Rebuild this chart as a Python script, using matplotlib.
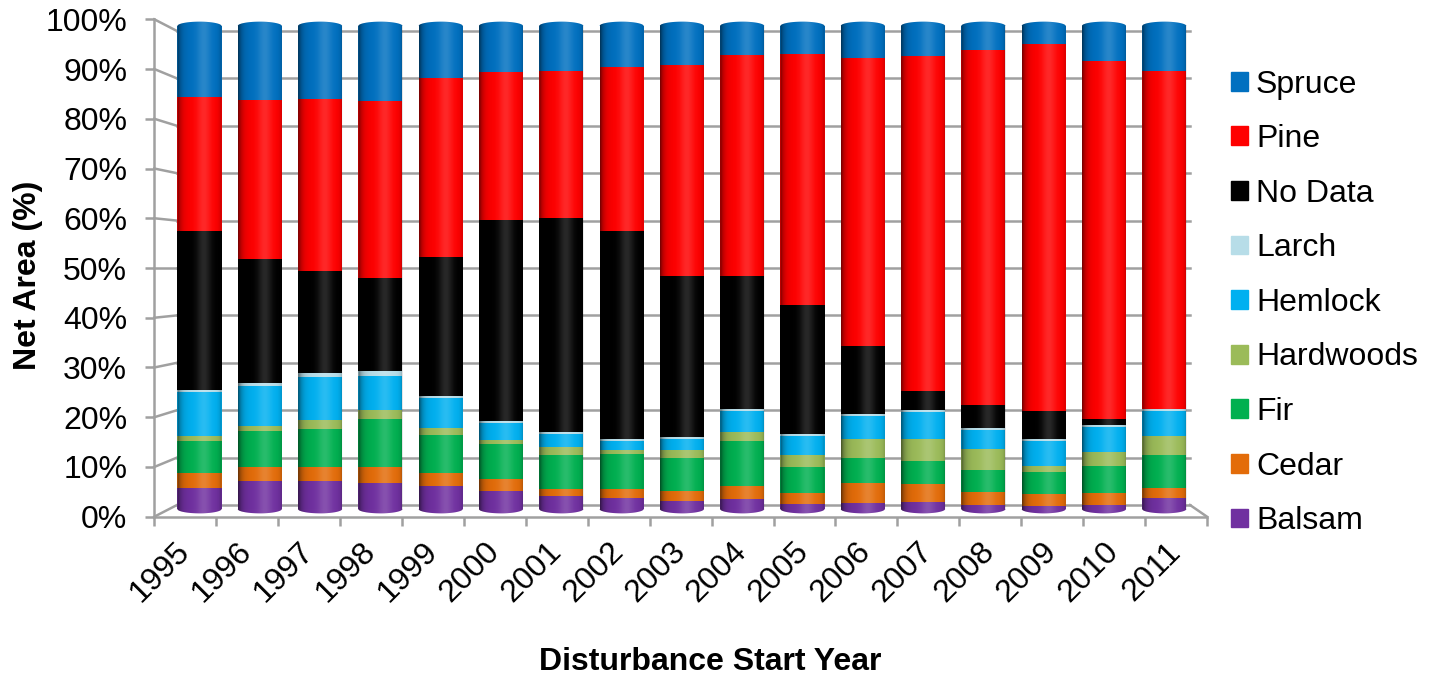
import numpy as np
import matplotlib
matplotlib.use('Agg')
import matplotlib.pyplot as plt
from matplotlib.patches import Rectangle, PathPatch
from matplotlib.path import Path

plt.rcParams['font.family'] = ['Liberation Sans', 'DejaVu Sans']

# Net area share (%) by species group for each disturbance start year
years = [str(y) for y in range(1995, 2012)]
balsam = [4.3, 5.7, 5.7, 5.4, 4.8, 3.8, 2.6, 2.3, 1.7, 2.1, 1.1, 1.2, 1.4, 0.8, 0.7, 0.8, 2.2]
cedar = [3.2, 3.0, 3.1, 3.4, 2.6, 2.4, 1.5, 1.8, 2.1, 2.7, 2.3, 4.2, 3.8, 2.8, 2.4, 2.5, 2.1]
fir = [6.5, 7.5, 7.7, 9.8, 8.0, 7.2, 7.0, 7.2, 6.8, 9.3, 5.3, 5.2, 4.8, 4.5, 4.6, 5.7, 6.8]
hardwoods = [1.1, 0.9, 1.9, 1.9, 1.4, 0.9, 1.7, 1.0, 1.7, 1.9, 2.5, 3.8, 4.4, 4.4, 1.3, 2.8, 4.0]
hemlock = [9.1, 8.4, 9.0, 7.1, 6.1, 3.5, 2.8, 1.7, 2.2, 4.3, 4.0, 4.8, 5.7, 3.9, 5.0, 5.1, 5.2]
larch = [0.5, 0.5, 0.7, 0.9, 0.6, 0.4, 0.4, 0.4, 0.4, 0.4, 0.4, 0.4, 0.4, 0.4, 0.4, 0.4, 0.4]
no_data = [32.9, 25.8, 21.2, 19.4, 28.6, 41.6, 44.3, 43.2, 33.4, 27.6, 26.6, 14.2, 4.0, 4.7, 5.9, 1.3, 0.0]
pine = [27.8, 32.9, 35.6, 36.6, 37.1, 30.6, 30.3, 34.0, 43.7, 45.7, 52.1, 59.6, 69.2, 73.6, 75.9, 74.1, 70.0]
spruce = [14.6, 15.3, 15.1, 15.5, 10.8, 9.6, 9.4, 8.4, 8.0, 6.0, 5.7, 6.6, 6.3, 4.9, 3.8, 7.3, 9.3]

series = [('Balsam', balsam, '#7030A0'),
          ('Cedar', cedar, '#E36C09'),
          ('Fir', fir, '#00B050'),
          ('Hardwoods', hardwoods, '#9BBB59'),
          ('Hemlock', hemlock, '#00B0F0'),
          ('Larch', larch, '#B7DDE8'),
          ('No Data', no_data, '#000000'),
          ('Pine', pine, '#FF0000'),
          ('Spruce', spruce, '#0070C0')]

W, H = 1434, 675
GRID = '#a0a0a0'
FS = 23

def fx(px):
    return px / W

def fy(py):
    return 1 - py / H

fig = plt.figure(figsize=(W / 100, H / 100), dpi=100)

# pseudo-3D frame (back wall grid + floor), drawn in pixel space
ax_frame = fig.add_axes([0, 0, 1, 1], zorder=0)
ax_frame.set_xlim(0, W)
ax_frame.set_ylim(H, 0)
ax_frame.axis('off')

front_y = lambda v: 516.7 - 4.974 * v
back_y = lambda v: 505 - 4.74 * v
for v in range(0, 101, 10):
    ax_frame.plot([177, 1190], [back_y(v), back_y(v)], color=GRID, lw=1.8)
    ax_frame.plot([154.3, 177], [front_y(v), back_y(v)], color=GRID, lw=1.8)
ax_frame.plot([1190, 1207], [back_y(0), front_y(0)], color=GRID, lw=1.8)

# front axes: value axis and category ticks
ax_front = fig.add_axes([fx(154.3), fy(516.7), (1207 - 154.3) / W, (516.7 - 19.3) / H], zorder=1)
ax_front.patch.set_alpha(0)
ax_front.set_xlim(-0.5, 16.5)
ax_front.set_ylim(0, 100)
for side in ['top', 'right']:
    ax_front.spines[side].set_visible(False)
for side in ['left', 'bottom']:
    ax_front.spines[side].set_color(GRID)
    ax_front.spines[side].set_linewidth(1.8)
ax_front.set_yticks(range(0, 101, 10))
ax_front.set_yticklabels([f'{v}%' for v in range(0, 101, 10)], fontsize=FS)
ax_front.tick_params(axis='y', length=6.5, width=1.8, color=GRID, pad=13)
ax_front.set_xticks(np.arange(-0.5, 17, 1), minor=True)
ax_front.tick_params(axis='x', which='minor', length=6.5, width=1.8, color=GRID)
ax_front.set_xticks(range(len(years)))
ax_front.set_xticklabels(years, fontsize=FS, rotation=45, ha='right', va='center',
                         rotation_mode='anchor')
ax_front.tick_params(axis='x', which='major', length=0, pad=22)
ax_front.set_xlabel('Disturbance Start Year', fontsize=FS, fontweight='bold', labelpad=28)
ax_front.set_ylabel('Net Area (%)', fontsize=FS, fontweight='bold', labelpad=2)
ax_front.xaxis.label.set_x(0.528)
ax_front.yaxis.label.set_y(0.486)

# cylinder bars
ax = fig.add_axes([fx(169.35), fy(523.5), (1194.45 - 169.35) / W, (523.5 - 11.5) / H], zorder=2)
ax.patch.set_alpha(0)
ax.axis('off')

x = np.arange(len(years))
width = 0.73
bottom = np.zeros(len(years))
for name, vals, col in series:
    ax.bar(x, vals, width, bottom=bottom, color=col, linewidth=0, zorder=2)
    bottom += np.array(vals)

# horizontal shading profile for the cylinder look
t = np.linspace(0, 1, 80)
dark = 0.55 * np.exp(-t / 0.09) + 0.28 * np.exp(-(1 - t) / 0.05)
light = 0.16 * np.exp(-((t - 0.6) / 0.16) ** 2)
shade = np.zeros((1, len(t), 4))
shade[0, :, :3] = (light / (light + dark + 1e-9))[:, None]
shade[0, :, 3] = np.clip(light + dark, 0, 1)

eh = 0.9
th = np.linspace(0, np.pi, 40)
for i, total in zip(x, bottom):
    x0, x1 = i - width / 2, i + width / 2
    bx = i + width / 2 * np.cos(np.pi + th)
    by = -eh * np.sin(th)
    tx = i + width / 2 * np.cos(th)
    ty = total + eh * np.sin(th)
    # rounded ends of the cylinder
    first = next(c for _, v, c in series if v[i] > 0)
    last = next(c for _, v, c in reversed(series) if v[i] > 0)
    ax.fill(np.r_[bx, x0], np.r_[by, 0], color=first, lw=0, zorder=2)
    ax.fill(np.r_[tx, x0], np.r_[ty, total], color=last, lw=0, zorder=2)
    outline = Path(np.column_stack([np.r_[bx, tx], np.r_[by, ty]]))
    clip = PathPatch(outline, transform=ax.transData, facecolor='none', edgecolor='none')
    ax.add_patch(clip)
    im = ax.imshow(shade, extent=(x0, x1, -eh, total + eh), aspect='auto',
                   interpolation='bilinear', zorder=3)
    im.set_clip_path(clip)

ax.set_xlim(-0.5, 16.5)
ax.set_ylim(-3, 103)

handles = [Rectangle((0, 0), 1, 1, color=c) for _, _, c in reversed(series)]
labels = [n for n, _, _ in reversed(series)]
fig.legend(handles, labels, loc='upper left', bbox_to_anchor=(fx(1231), fy(69.5)),
           frameon=False, fontsize=FS, handlelength=0.53, handleheight=0.53,
           handletextpad=0.25, labelspacing=0.77, borderpad=0, borderaxespad=0)

fig.savefig('out.png', dpi=100)
